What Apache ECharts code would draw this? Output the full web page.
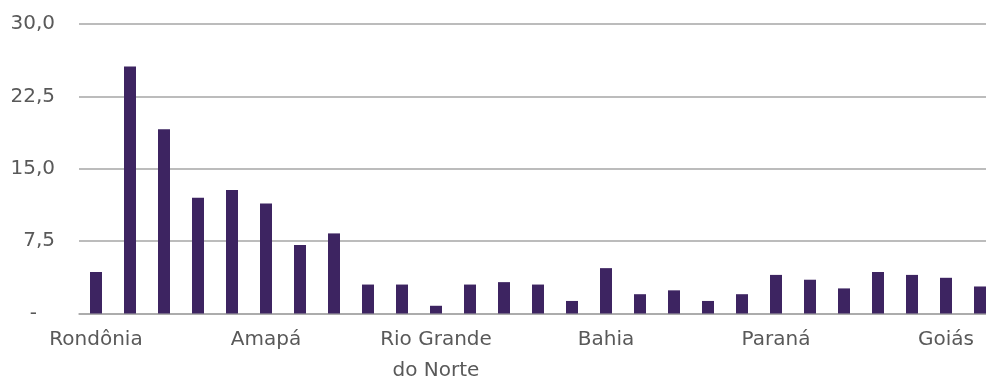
<!DOCTYPE html>
<html>
<head>
<meta charset="utf-8">
<script src="https://cdn.jsdelivr.net/npm/echarts@6/dist/echarts.min.js"></script>
<style>
html,body{margin:0;padding:0;background:#fff;}
#c{width:986px;height:376px;}
</style>
</head>
<body>
<div id="c"></div>
<script>
const states = ["Rondônia","Acre","Amazonas","Roraima","Pará","Amapá","Tocantins","Maranhão","Piauí","Ceará","Rio Grande do Norte","Paraíba","Pernambuco","Alagoas","Sergipe","Bahia","Minas Gerais","Espírito Santo","Rio de Janeiro","São Paulo","Paraná","Santa Catarina","Rio Grande do Sul","Mato Grosso do Sul","Mato Grosso","Goiás","Distrito Federal"];
const values = [4.3,25.6,19.1,12.0,12.8,11.4,7.1,8.3,3.0,3.0,0.8,3.0,3.25,3.0,1.3,4.7,2.0,2.4,1.3,2.0,4.0,3.5,2.6,4.3,4.0,3.7,2.8];
const yTicks = [0,7.5,15,22.5,30];

const chart = echarts.init(document.getElementById('c'), null, {renderer:'canvas'});
const font = "'DejaVu Sans ExtraLight', 'DejaVu Sans'";
chart.setOption({
  animation:false,
  grid:{left:79, top:24, width:918, height:289.5, containLabel:false, outerBoundsMode:'none'},
  xAxis:{
    type:'category',
    data:states,
    axisTick:{show:false},
    axisLine:{show:true, lineStyle:{color:'#a6a6a6', width:1.5}},
    axisLabel:{
      interval:4,
      color:'#595959',
      fontFamily:font,
      fontSize:20,
      margin:11,
      lineHeight:31,
      formatter:function(v){ return v === 'Rio Grande do Norte' ? 'Rio Grande\ndo Norte' : v; }
    }
  },
  yAxis:{
    type:'value',
    min:yTicks[0],
    max:yTicks[yTicks.length-1],
    interval:7.5,
    axisLine:{show:false},
    axisTick:{show:false},
    splitLine:{lineStyle:{color:'#a6a6a6', width:1.5}},
    axisLabel:{
      margin:24,
      color:'#595959',
      fontFamily:font,
      fontSize:20,
      formatter:function(v){
        if (v === 0) return '{d|-}';
        return v.toFixed(1).replace('.', ',');
      },
      rich:{d:{color:'#595959', fontFamily:font, fontSize:20, padding:[0,18,0,0]}}
    }
  },
  series:[{
    type:'bar',
    data:values,
    barWidth:12,
    itemStyle:{color:'#3d2461'}
  }]
});
</script>
</body>
</html>
